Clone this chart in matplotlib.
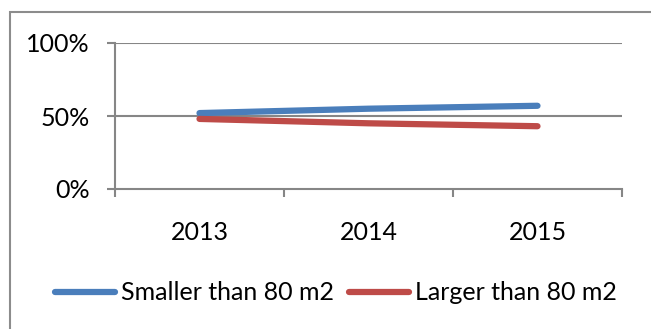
import numpy as np
import matplotlib
matplotlib.use("Agg")
import matplotlib.pyplot as plt
from matplotlib.patches import Rectangle

plt.rcParams['font.family'] = ['Lato', 'DejaVu Sans']

years = ['2013', '2014', '2015']
smaller = [52, 55, 57]
larger = [48, 45, 43]
yticks = [0, 50, 100]
ytick_labels = ['0%', '50%', '100%']

W, H = 651, 329
fig = plt.figure(figsize=(W / 100, H / 100), dpi=100)

# outer chart border (Excel style)
fig.patches.append(Rectangle((10 / W, -0.1), 1.2, (H - 12) / H + 0.1,
                             transform=fig.transFigure, fill=False,
                             edgecolor='#8c8c8c', linewidth=1.5))

ax = fig.add_axes([115 / W, (H - 189) / H, (622 - 115) / W, (189 - 43) / H])
x = np.arange(len(years)) + 0.5
ax.plot(x, smaller, color='#4a7ebb', linewidth=4.5, solid_capstyle='round',
        label='Smaller than 80 m2')
ax.plot(x, larger, color='#be4b48', linewidth=4.5, solid_capstyle='round',
        label='Larger than 80 m2')

grid_c = '#868686'
ax.set_xlim(0, 3)
ax.set_ylim(0, 100)
for s in ['top', 'right']:
    ax.spines[s].set_visible(False)
for s in ['left', 'bottom']:
    ax.spines[s].set_color(grid_c)
    ax.spines[s].set_linewidth(1.5)
for v in yticks[1:]:
    ax.axhline(v, color=grid_c, linewidth=1.5, zorder=0)

ax.set_yticks(yticks)
ax.set_yticklabels(ytick_labels)
ax.set_xticks(np.arange(len(years) + 1))
ax.set_xticklabels([])
ax.set_xticks(x, minor=True)
ax.set_xticklabels(years, minor=True)
ax.tick_params(axis='y', length=6, width=1.5, color=grid_c, labelsize=18, pad=12)
ax.tick_params(axis='x', which='major', length=6, width=1.5, color=grid_c)
ax.tick_params(axis='x', which='minor', length=0, labelsize=18, pad=23)

fig.legend(loc='center', bbox_to_anchor=(336 / W, (H - 293) / H), ncol=2,
           frameon=False, fontsize=18, handlelength=2.4, handletextpad=0.25,
           columnspacing=0.6)

fig.savefig('out.png', dpi=100)
